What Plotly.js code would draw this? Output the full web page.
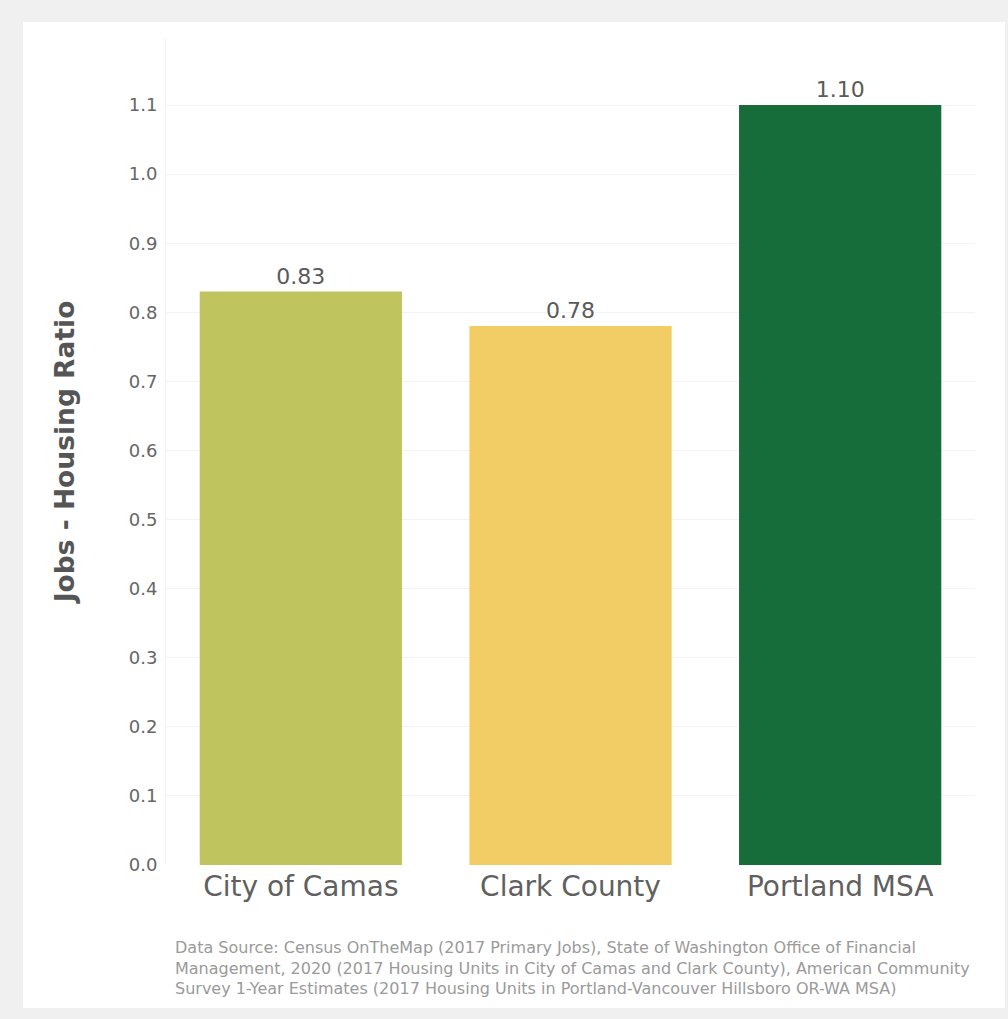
<!DOCTYPE html>
<html>
<head>
<meta charset="utf-8">
<script src="https://cdn.plot.ly/plotly-3.0.1.min.js"></script>
<style>
  html, body { margin: 0; padding: 0; background: #f0f0f0; width: 1008px; height: 1019px; overflow: hidden; }
  #chart { position: absolute; left: 23px; top: 22px; width: 982px; height: 986px; background: #fff; }
</style>
</head>
<body>
<div id="chart"></div>
<script>
const categories = ["City of Camas", "Clark County", "Portland MSA"];
const ratios = [0.83, 0.78, 1.10];
const barLabels = ["0.83", "0.78", "1.10"];
const barColors = ["#c0c45f", "#f2cd66", "#176d39"];
const yTickValues = [0, 0.1, 0.2, 0.3, 0.4, 0.5, 0.6, 0.7, 0.8, 0.9, 1.0, 1.1];
const yAxisTitle = "Jobs - Housing Ratio";
const sourceLines = [
  "Data Source: Census OnTheMap (2017 Primary Jobs), State of Washington Office of Financial",
  "Management, 2020 (2017 Housing Units in City of Camas and Clark County), American Community",
  "Survey 1-Year Estimates (2017 Housing Units in Portland-Vancouver Hillsboro OR-WA MSA)"
];

const FONT = "'DejaVu Sans', sans-serif";

const trace = {
  type: "bar",
  x: categories,
  y: ratios,
  text: barLabels,
  textposition: "outside",
  cliponaxis: false,
  textfont: { family: FONT, size: 22, color: "#5a5a5a" },
  marker: { color: barColors, line: { width: 0 } },
  hoverinfo: "x+y"
};

const W = 982, H = 986;
const margin = { l: 143, r: 30, t: 16, b: 143 };
const plotH = H - margin.t - margin.b;

const annotations = sourceLines.map((line, i) => ({
  text: line,
  xref: "paper", yref: "paper",
  x: (150 - margin.l) / (W - margin.l - margin.r),
  y: -(947 - 22 - (H - margin.b) + i * 21) / plotH,
  xanchor: "left", yanchor: "middle",
  showarrow: false,
  align: "left",
  font: { family: FONT, size: 16, color: "#9a9a9a" }
}));

const layout = {
  width: W, height: H,
  margin: margin,
  paper_bgcolor: "#ffffff",
  plot_bgcolor: "#ffffff",
  showlegend: false,
  bargap: 0.25,
  xaxis: {
    type: "category",
    range: [-0.5, 2.5],
    showgrid: false,
    zeroline: false,
    showline: false,
    ticks: "",
    tickfont: { family: FONT, size: 28, color: "#606060" },
    ticklabelstandoff: 2
  },
  yaxis: {
    range: [0, 1.197],
    tickvals: yTickValues,
    tickformat: ".1f",
    showgrid: true,
    gridcolor: "#f3f3f3",
    gridwidth: 1,
    zeroline: false,
    showline: true,
    linecolor: "#f3f3f3",
    ticks: "",
    tickfont: { family: FONT, size: 18, color: "#666666" },
    ticklabelstandoff: 4,
    title: {
      text: yAxisTitle,
      font: { family: FONT, size: 26.5, color: "#555555", weight: "bold" },
      standoff: 46
    },
    automargin: false
  },
  annotations: annotations
};

Plotly.newPlot("chart", [trace], layout, { displayModeBar: false, staticPlot: true });
</script>
</body>
</html>
